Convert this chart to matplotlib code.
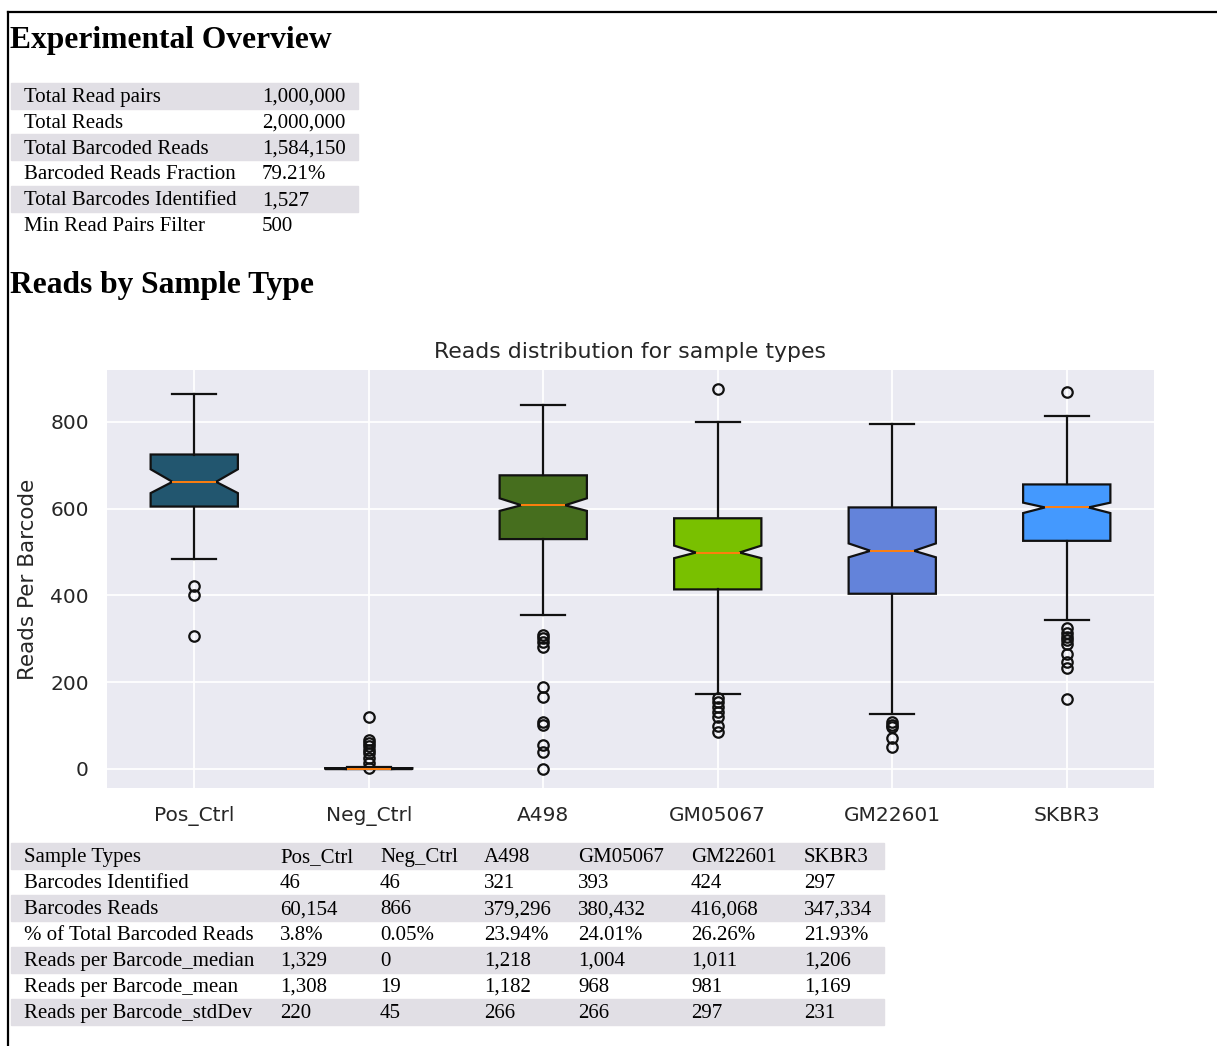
import matplotlib.pyplot as plt
from matplotlib.lines import Line2D
from matplotlib.patches import Rectangle

# overview table
overview_labels = ['Total Read pairs', 'Total Reads', 'Total Barcoded Reads',
                   'Barcoded Reads Fraction', 'Total Barcodes Identified',
                   'Min Read Pairs Filter']
overview_values = ['1,000,000', '2,000,000', '1,584,150', '79.21%', '1,527', '500']

# per-sample box statistics (reads per barcode)
samples = ['Pos_Ctrl', 'Neg_Ctrl', 'A498', 'GM05067', 'GM22601', 'SKBR3']
medians = [662, 0, 608, 499, 503, 603]
q1 = [605, 0, 530, 414, 404, 526]
q3 = [725, 2, 677, 578, 603, 656]
whis_low = [484, 0, 354, 174, 126, 343]
whis_high = [864, 4, 838, 800, 795, 813]
notch_low = [636, 0, 595, 486, 488, 590]
notch_high = [691, 1, 624, 515, 520, 614]
outliers = [
    [423, 400, 307],
    [121, 67, 60, 52, 44, 37, 25, 14, 2],
    [308, 301, 293, 281, 190, 167, 109, 102, 56, 40, 0],
    [876, 163, 155, 144, 132, 121, 98, 86],
    [109, 102, 96, 71, 50],
    [870, 324, 313, 304, 297, 289, 266, 247, 232, 161],
]
box_colors = ['#22566f', '#22566f', '#466e1e', '#79c000', '#6383da', '#4499fe']

# sample summary table
summary_header = ['Sample Types'] + samples
summary_rows = [
    ['Barcodes Identified', '46', '46', '321', '393', '424', '297'],
    ['Barcodes Reads', '60,154', '866', '379,296', '380,432', '416,068', '347,334'],
    ['% of Total Barcoded Reads', '3.8%', '0.05%', '23.94%', '24.01%', '26.26%', '21.93%'],
    ['Reads per Barcode_median', '1,329', '0', '1,218', '1,004', '1,011', '1,206'],
    ['Reads per Barcode_mean', '1,308', '19', '1,182', '968', '981', '1,169'],
    ['Reads per Barcode_stdDev', '220', '45', '266', '266', '297', '231'],
]

W, H = 1217, 1046
fig = plt.figure(figsize=(W / 100, H / 100), dpi=100)


def fx(x):
    return x / W


def fy(y):
    return 1 - y / H


SERIF = 'Liberation Serif'
ROW_H = 25.9
SHADE = '#e1dfe5'


def draw_table(rows, top, col_x, right):
    for i, row in enumerate(rows):
        y0 = top + i * ROW_H
        if i % 2 == 0:
            fig.patches.append(Rectangle((fx(11), fy(y0 + ROW_H)), fx(right - 11), ROW_H / H,
                                         transform=fig.transFigure, color=SHADE, zorder=0))
        for x, cell in zip(col_x, row):
            fig.text(fx(x), fy(y0 + 19), cell, fontfamily=SERIF, fontsize=15,
                     va='baseline', ha='left', color='black')


# page frame
fig.lines.append(Line2D([fx(8), fx(W)], [fy(12), fy(12)], transform=fig.transFigure,
                        color='black', lw=1.6))
fig.lines.append(Line2D([fx(8), fx(8)], [fy(12), fy(H)], transform=fig.transFigure,
                        color='black', lw=1.6))

fig.text(fx(10), fy(48), 'Experimental Overview', fontfamily=SERIF, fontweight='bold',
         fontsize=22.7, va='baseline')
draw_table([[a, b] for a, b in zip(overview_labels, overview_values)], 82.7, [24, 262], 358)

fig.text(fx(10), fy(293), 'Reads by Sample Type', fontfamily=SERIF, fontweight='bold',
         fontsize=22.7, va='baseline')

# box plot
ax = fig.add_axes([fx(107), fy(788), fx(1154 - 107), (788 - 370) / H])
ax.set_facecolor('#eaeaf2')
for s in ax.spines.values():
    s.set_visible(False)
ax.grid(True, color='white', lw=1.3)
ax.set_axisbelow(True)

stats = []
for i, name in enumerate(samples):
    stats.append(dict(label=name, med=medians[i], q1=q1[i], q3=q3[i],
                      whislo=whis_low[i], whishi=whis_high[i],
                      cilo=notch_low[i], cihi=notch_high[i], fliers=outliers[i]))

bp = ax.bxp(stats, shownotches=True, patch_artist=True,
            boxprops=dict(lw=1.6, edgecolor='#111111'),
            whiskerprops=dict(lw=1.6, color='#111111'),
            capprops=dict(lw=1.6, color='#111111'),
            medianprops=dict(lw=1.4, color='#ff7f0e'),
            flierprops=dict(marker='o', markersize=7.5, markerfacecolor='none',
                            markeredgecolor='#111111', markeredgewidth=1.6))
for patch, c in zip(bp['boxes'], box_colors):
    patch.set_facecolor(c)

ax.set_title('Reads distribution for sample types', fontsize=15.8, color='.15', pad=9)
ax.set_ylabel('Reads Per Barcode', fontsize=15.5, color='.15', labelpad=9)
ax.set_yticks([0, 200, 400, 600, 800])
ax.tick_params(axis='x', length=0, pad=13, labelsize=14.5, labelcolor='.15')
ax.tick_params(axis='y', length=0, pad=13, labelsize=14.5, labelcolor='.15')

draw_table([summary_header] + summary_rows, 843.3, [24, 280, 380, 484, 578, 691, 804], 884)

fig.savefig('out.png', dpi=100)
